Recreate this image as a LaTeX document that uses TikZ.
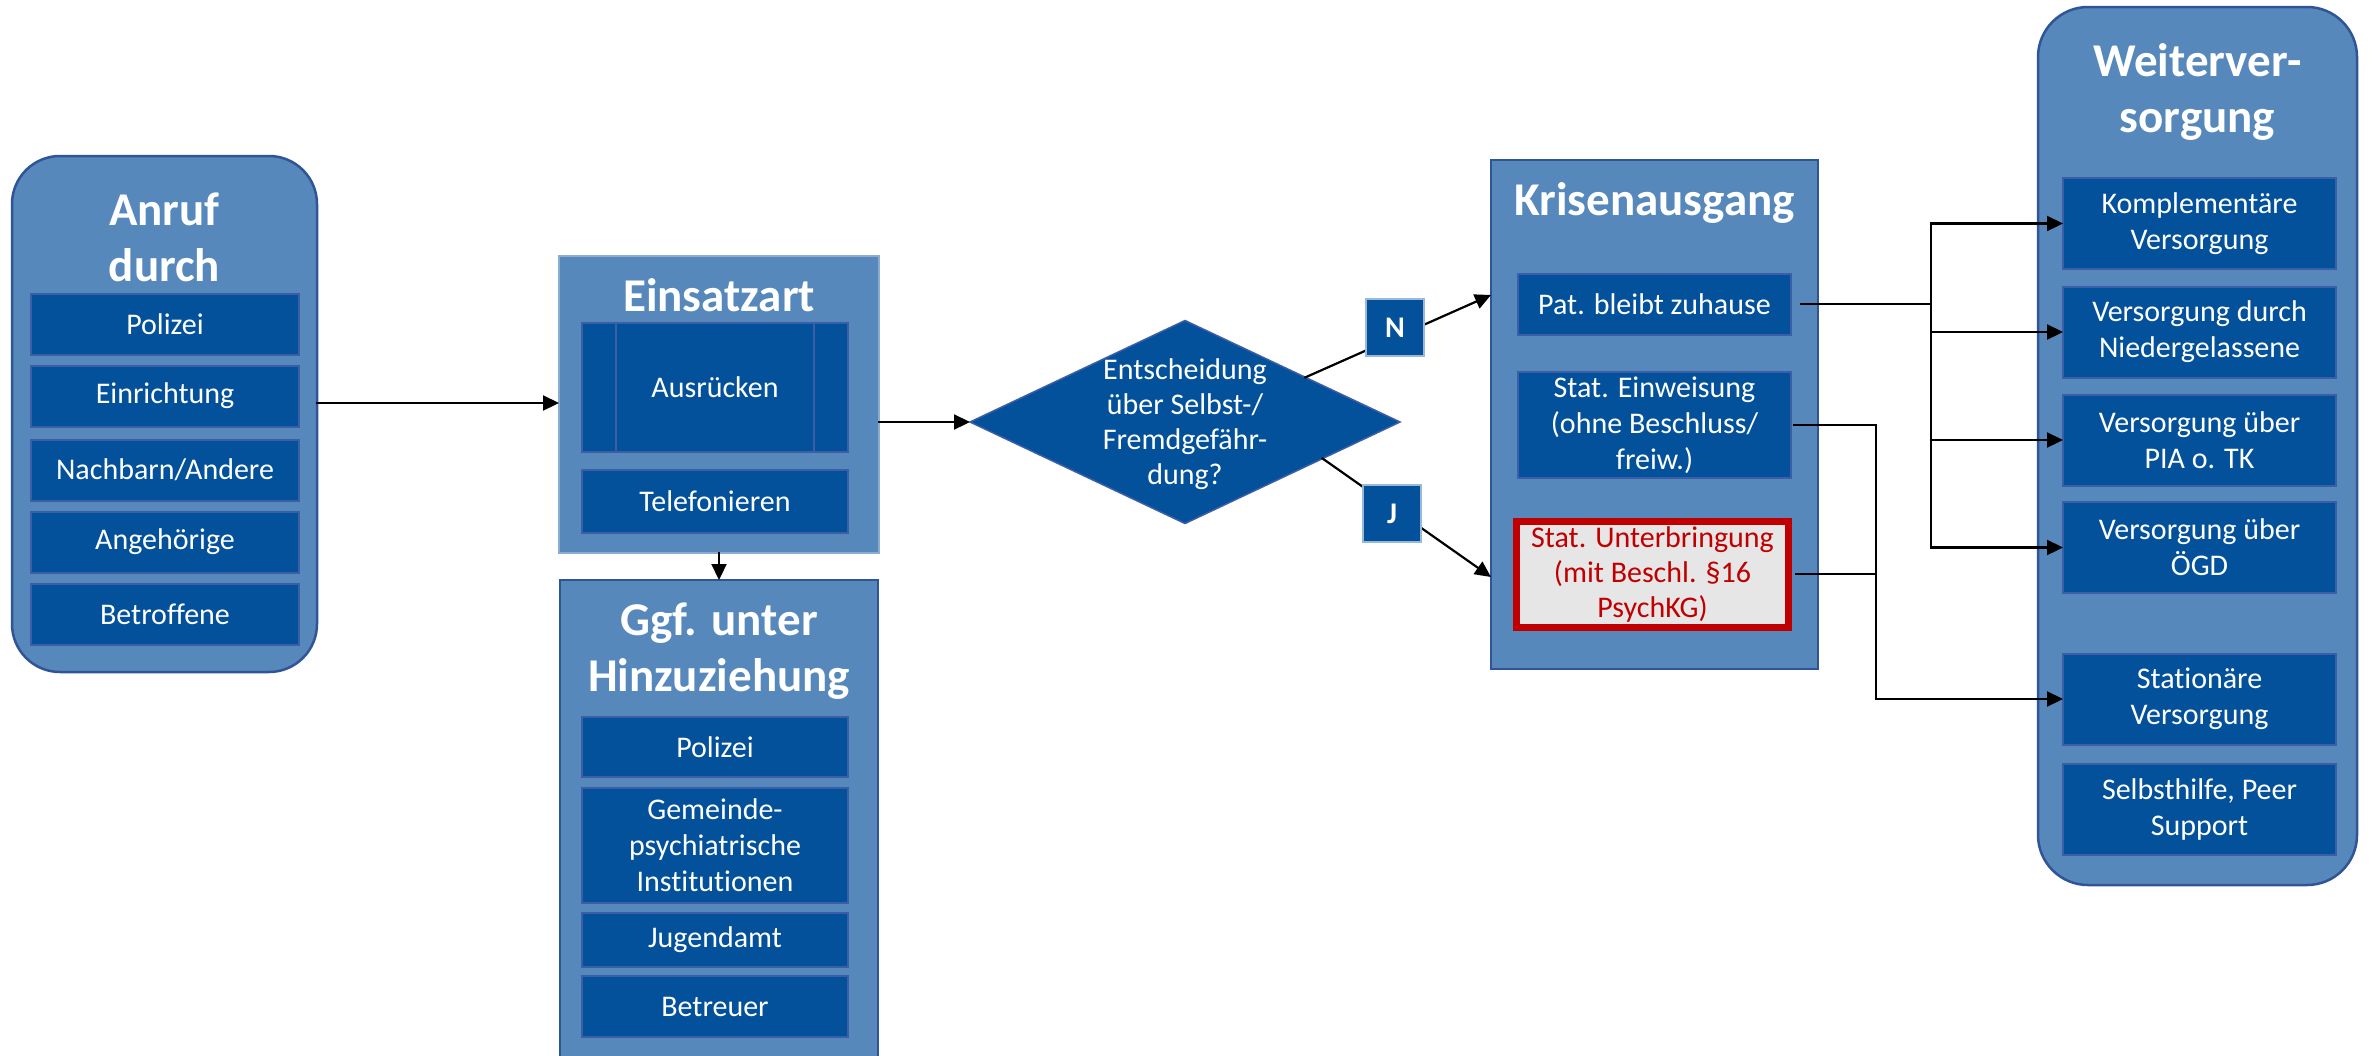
\documentclass[tikz,border=0pt]{standalone}
\usepackage{fontspec}
\setmainfont{Carlito}[Ligatures=NoCommon]
\usetikzlibrary{arrows.meta,shapes.geometric,calc}
\definecolor{outerfill}{HTML}{5688BC}
\definecolor{outerline}{HTML}{2F5597}
\definecolor{darkfill}{HTML}{03519B}
\definecolor{innerline}{HTML}{3B5EA6}
\definecolor{redline}{HTML}{C00000}
\definecolor{redfill}{HTML}{E7E6E6}
\begin{document}
\begin{tikzpicture}[x=1pt,y=-1pt,
 outerbox/.style={draw=outerline,fill=outerfill,line width=2.5pt,inner sep=0pt,outer sep=0pt},
 itembox/.style={draw=innerline,fill=darkfill,line width=2pt,inner sep=0pt,outer sep=0pt,text=white,align=center,font=\fontsize{30}{36}\selectfont},
 titletext/.style={text=white,align=center,font=\bfseries\fontsize{47}{56}\selectfont,inner sep=0pt},
 plaintext/.style={text=white,align=center,font=\fontsize{30}{35}\selectfont,inner sep=0pt},
 conn/.style={line width=2.2pt,draw=black,line cap=rect},
 arr/.style={conn,-{Triangle[length=16pt,width=15pt]}},
 lblbox/.style={draw=outerfill!60!white,fill=darkfill,line width=1.5pt,text=white,font=\bfseries\fontsize{30}{36}\selectfont,minimum width=58pt,minimum height=57pt,inner sep=0pt,outer sep=0pt}
]
\useasboundingbox (0,0) rectangle (2374,1055);
\clip (0,0) rectangle (2374,1055);

% Anruf durch
\node[outerbox,rounded corners=48pt,minimum width=305pt,minimum height=516pt] (anruf) at (164.5,414) {};
\node[titletext] (anruftitle) at (164.5,237) {Anruf\\durch};
\node[itembox,minimum width=268pt,minimum height=61pt] (a1) at (165,324) {Polizei};
\node[itembox,minimum width=268pt,minimum height=61pt] (a2) at (165,396) {Einrichtung};
\node[itembox,minimum width=268pt,minimum height=61pt] (a3) at (165,470) {Nachbarn/Andere};
\node[itembox,minimum width=268pt,minimum height=61pt] (a4) at (165,542) {Angehörige};
\node[itembox,minimum width=268pt,minimum height=61pt] (a5) at (165,614) {Betroffene};

% Einsatzart
\node[outerbox,draw=outerfill!70!white,line width=1.5pt,minimum width=320pt,minimum height=297pt] (eins) at (719,404.5) {};
\node[titletext] (einstitle) at (719,295.5) {Einsatzart};
\node[itembox,minimum width=266pt,minimum height=129pt] (aus) at (715,387.5) {Ausrücken};
\draw[innerline,line width=2pt] ([xshift=34pt]aus.north west) -- ([xshift=34pt]aus.south west);
\draw[innerline,line width=2pt] ([xshift=-34pt]aus.north east) -- ([xshift=-34pt]aus.south east);
\node[itembox,minimum width=266pt,minimum height=63pt] (tel) at (715,501.5) {Telefonieren};

% Hinzuziehung
\node[outerbox,minimum width=318pt,minimum height=520pt] (hinz) at (719,840) {};
\node[titletext] (hinztitle) at (719,651) {Ggf. unter\\Hinzuziehung};
\node[itembox,minimum width=266pt,minimum height=60pt] (h1) at (715,747) {Polizei};
\node[itembox,minimum width=266pt,minimum height=115pt] (h2) at (715,845.5) {Gemeinde-\\psychiatrische\\Institutionen};
\node[itembox,minimum width=266pt,minimum height=54pt] (h3) at (715,940) {Jugendamt};
\node[itembox,minimum width=266pt,minimum height=61pt] (h4) at (715,1006.5) {Betreuer};

% Entscheidung
\node[diamond,fill=darkfill,draw=innerline,line width=1.5pt,minimum width=430pt,minimum height=203pt,inner sep=0pt,outer sep=0pt] (dia) at (1185,422) {};
\node[plaintext] (diatext) at (1185,424) {Entscheidung\\über Selbst-/\\Fremdgefähr-\\dung?};

% Krisenausgang
\node[outerbox,minimum width=327pt,minimum height=509pt] (kris) at (1654.5,414.5) {};
\node[titletext] (kristitle) at (1654.5,203) {Krisenausgang};
\node[itembox,minimum width=273pt,minimum height=61pt] (k1) at (1654.5,304) {Pat. bleibt zuhause};
\node[itembox,minimum width=273pt,minimum height=106pt] (k2) at (1654.5,425) {Stat. Einweisung\\(ohne Beschluss/\\freiw.)};
\node[itembox,draw=redline,fill=redfill,text=redline,line width=7pt,minimum width=272pt,minimum height=106pt,font=\fontsize{30}{35}\selectfont] (k3) at (1652.5,574) {Stat. Unterbringung\\(mit Beschl. §16\\PsychKG)};

% Weiterversorgung
\node[outerbox,rounded corners=50pt,minimum width=319pt,minimum height=878pt] (weiter) at (2197.5,446) {};
\node[titletext] (weitertitle) at (2197.5,91.5) {Weiterver-\\sorgung};
\node[itembox,minimum width=273pt,minimum height=91pt] (w1) at (2199.5,223.5) {Komplementäre\\Versorgung};
\node[itembox,minimum width=273pt,minimum height=91pt] (w2) at (2199.5,332) {Versorgung durch\\Niedergelassene};
\node[itembox,minimum width=273pt,minimum height=91pt] (w3) at (2199.5,440) {Versorgung über\\PIA o. TK};
\node[itembox,minimum width=273pt,minimum height=91pt] (w4) at (2199.5,547.5) {Versorgung über\\ÖGD};
\node[itembox,minimum width=273pt,minimum height=91pt] (w5) at (2199.5,699) {Stationäre\\Versorgung};
\node[itembox,minimum width=273pt,minimum height=91pt] (w6) at (2199.5,809.5) {Selbsthilfe, Peer\\Support};

% connectors
\draw[arr] (anruf.east |- 0,403) -- (eins.west |- 0,403);
\draw[arr] (eins.east |- dia.west) -- (dia.west);
\draw[arr] (eins.south) -- (hinz.north);
\coordinate (nstart) at ($(dia.east)!0.44!(dia.north)$);
\coordinate (nend) at (kris.west |- 0,295);
\draw[arr] (nstart) -- (nend);
\coordinate (jstart) at ($(dia.east)!0.36!(dia.south)$);
\coordinate (jend) at (kris.west |- 0,577);
\draw[arr] (jstart) -- (jend);
\node[lblbox] (nlbl) at (1395,327.5) {N};
\node[lblbox] (jlbl) at (1392,513.5) {J};

\coordinate (bx) at (1931,0);
\coordinate (by) at (1876,0);
\draw[conn] ([xshift=10pt]k1.east) -- (bx |- k1.east);
\draw[conn] (bx |- w1.west) -- (bx |- w4.west);
\foreach \w in {w1,w2,w3,w4} \draw[arr] (bx |- \w.west) -- (\w.west);
\draw[arr] ([xshift=3pt]k2.east) -- (by |- k2.east) -- (by |- w5.west) -- (w5.west);
\draw[conn] ([xshift=7.5pt]k3.east) -- (by |- k3.east);
\end{tikzpicture}
\end{document}
